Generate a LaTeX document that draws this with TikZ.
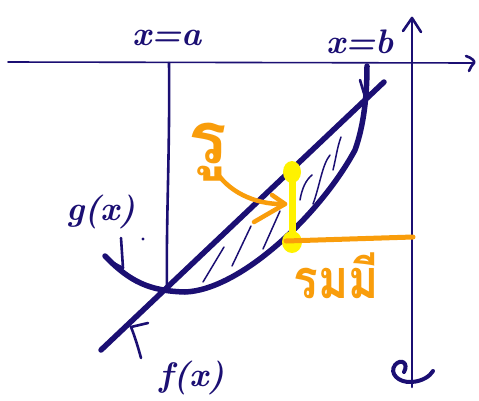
\documentclass[tikz,border=0pt]{standalone}
\usepackage{fontspec}
\newfontfamily\thaifont[Script=Thai]{Loma}
\definecolor{navy}{HTML}{1B0F73}
\definecolor{orng}{HTML}{F99D0B}
\definecolor{yel}{HTML}{FFF200}
\begin{document}
\begin{tikzpicture}[x=1pt,y=-1pt,line cap=round,line join=round,
  thinink/.style={draw=navy,line width=1.6pt},
  ink/.style={draw=navy,line width=2.6pt},
  thickink/.style={draw=navy,line width=5.5pt},
  hatch/.style={draw=navy,line width=1.5pt},
  lbl/.style={text=navy,font=\fontsize{34}{34}\selectfont\bfseries\itshape,inner sep=0pt},
  thlbl/.style={text=orng,inner sep=0pt}]
\useasboundingbox[fill=white] (0,0) rectangle (479,400);
% axes
\coordinate (hx0) at (8,62);
\coordinate (hx1) at (474,63);
\draw[thinink] (hx0) -- (hx1);
\draw[ink] (466,56) .. controls (472,58) and (475,61) .. (hx1) .. controls (472,65) and (470,68) .. (469,71);
\coordinate (vy0) at (412,387);
\coordinate (vy1) at (412,18);
\draw[ink] (vy0) -- (vy1);
\draw[ink] (403,31) -- (vy1) -- (421,32);
% x = a line
\coordinate (a0) at (169,63);
\coordinate (a1) at (167,288);
\draw[ink] (a0) .. controls (170,150) and (166,220) .. (a1);
% f line
\coordinate (f0) at (101,350);
\coordinate (f1) at (384,82);
\draw[thickink] (f0) -- (f1);
% g curve
\coordinate (g0) at (105,256);
\coordinate (g1) at (367,66);
\draw[thickink] (g0) .. controls (130,282) and (150,291) .. (185,292)
  .. controls (240,290) and (320,215) .. (355,150)
  .. controls (364,125) and (367,95) .. (g1);
% pointer arrows
\draw[ink] (121,238) -- (123,268);
\draw[ink] (108,260) -- (123,268);
\draw[ink] (360,80) -- (366,100);
\draw[ink] (148,323) -- (131,327);
\draw[ink] (131,327) .. controls (135,337) and (138,347) .. (141,358);
% hatch
\draw[hatch] (203,282) -- (224,247);
\draw[hatch] (232,266) -- (251,226);
\draw[hatch] (263,249) -- (280,211);
\draw[hatch] (300,200) .. controls (302,188) and (306,180) .. (312,175);
\draw[hatch] (313,204) .. controls (320,185) and (322,165) .. (330,155);
\draw[hatch] (333,170) .. controls (336,158) and (337,148) .. (341,137);
% dot
\fill[navy] (143,239) circle (1.6);
% bottom curl
\draw[navy,line width=4pt] (404,372) .. controls (409,363) and (401,358) .. (395,365)
  .. controls (389,373) and (398,383) .. (412,382)
  .. controls (423,381) and (430,376) .. (433,371);
% yellow
\coordinate (y0) at (292,172);
\coordinate (y1) at (292,242);
\draw[draw=yel,line width=7pt] (y0) -- (y1);
\fill[yel] (y0) ellipse (9 and 11);
\fill[yel] (y1) ellipse (10 and 11);
% orange
\coordinate (o0) at (286,241);
\coordinate (o1) at (413,237);
\draw[draw=orng,line width=5pt] (o0) -- (o1);
\coordinate (c0) at (217,173);
\coordinate (c1) at (285,204);
\draw[draw=orng,line width=4.5pt] (c0) .. controls (232,195) and (260,205) .. (c1);
\draw[draw=orng,line width=4.5pt] (272,195) -- (c1) -- (254,222);
% labels
\node[lbl] (la) at (167,38) {x=a};
\node[lbl] (lb) at (360,42) {x=b};
\node[lbl] (lg) at (101,212) {g(x)};
\node[lbl] (lf) at (192,378) {f(x)};
\node[thlbl,font=\thaifont\bfseries\fontsize{72}{72}\selectfont] (tt) at (208,152) {รู};
\node[thlbl,xscale=0.85,font=\thaifont\bfseries\fontsize{54}{54}\selectfont] (tb) at (336,276) {รมมี};
\end{tikzpicture}
\end{document}
